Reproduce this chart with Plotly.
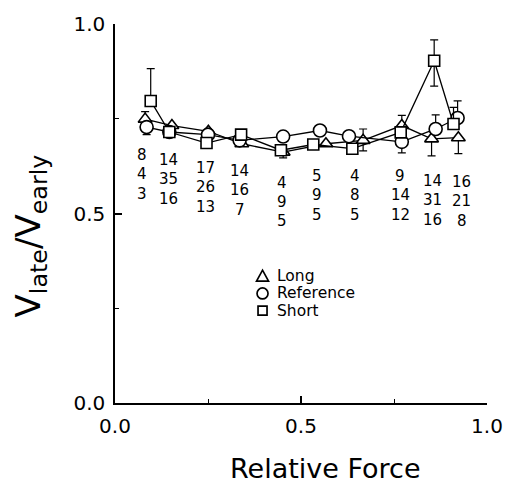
import plotly.graph_objects as go

# Long (triangles)
long_x = [0.081, 0.153, 0.251, 0.341, 0.452, 0.567, 0.667, 0.771, 0.851, 0.923]
long_y = [0.749, 0.732, 0.717, 0.684, 0.662, 0.684, 0.693, 0.732, 0.697, 0.700]
long_err_plus = [0.020, 0, 0, 0, 0, 0, 0.030, 0.027, 0, 0]
long_err_minus = [0, 0, 0, 0, 0.015, 0, 0.028, 0, 0.045, 0.042]

# Reference (circles)
ref_x = [0.085, 0.146, 0.250, 0.335, 0.452, 0.551, 0.629, 0.771, 0.862, 0.921]
ref_y = [0.728, 0.715, 0.708, 0.693, 0.703, 0.719, 0.704, 0.689, 0.723, 0.752]
ref_err_plus = [0, 0, 0, 0, 0, 0, 0, 0, 0.037, 0.045]
ref_err_minus = [0.020, 0, 0, 0, 0, 0, 0, 0.029, 0, 0]

# Short (squares)
short_x = [0.096, 0.146, 0.246, 0.339, 0.446, 0.533, 0.638, 0.768, 0.858, 0.910]
short_y = [0.797, 0.715, 0.686, 0.708, 0.667, 0.682, 0.671, 0.714, 0.903, 0.736]
short_err_plus = [0.085, 0, 0, 0, 0, 0, 0, 0, 0.055, 0.044]
short_err_minus = [0, 0, 0, 0, 0, 0, 0, 0, 0.067, 0]

# sample counts printed under each force bin
n_row1 = [8, 14, 17, 14, 4, 5, 4, 9, 14, 16]
n_row2 = [4, 35, 26, 16, 9, 9, 8, 14, 31, 21]
n_row3 = [3, 16, 13, 7, 5, 5, 5, 12, 16, 8]
n_label_x = [0.073, 0.144, 0.243, 0.335, 0.450, 0.542, 0.644, 0.767, 0.853, 0.932]
n_label_top = [0.654, 0.641, 0.620, 0.612, 0.581, 0.599, 0.599, 0.599, 0.586, 0.583]
n_row_step = 0.051

legend_names = ["Long", "Reference", "Short"]

FONT = "DejaVu Sans"
W, H = 515, 484
ML, MR, MT, MB = 115, 18, 19, 81
PW, PH = W - ML - MR, H - MT - MB


def px_to_paper(px, py):
    return (px - ML) / PW, (H - MB - py) / PH


fig = go.Figure()

series = [
    (long_x, long_y, long_err_plus, long_err_minus, "triangle-up", 12),
    (ref_x, ref_y, ref_err_plus, ref_err_minus, "circle", 13),
    (short_x, short_y, short_err_plus, short_err_minus, "square", 11),
]

for name, (xs, ys, ep, em, sym, sz) in zip(legend_names, series):
    fig.add_trace(go.Scatter(
        x=xs, y=ys, mode="lines+markers", name=name, showlegend=False,
        line=dict(color="black", width=1.3),
        marker=dict(symbol=sym, size=sz, color="white",
                    line=dict(color="black", width=1.6)),
        error_y=dict(type="data", symmetric=False, array=ep, arrayminus=em,
                     color="black", thickness=1.2, width=4),
    ))

for i, xv in enumerate(n_label_x):
    for r, row in enumerate([n_row1, n_row2, n_row3]):
        fig.add_annotation(
            x=xv, y=n_label_top[i] - r * n_row_step, xref="x", yref="y",
            text=str(row[i]), showarrow=False, height=18,
            font=dict(family=FONT, size=15, color="black"),
        )

# legend drawn as key shapes + labels
legend_sym_px = 266.5
legend_rows_py = [274.5, 292.0, 309.5]
legend_text_px = 279.0
shapes = []
for k, (name, py) in enumerate(zip(legend_names, legend_rows_py)):
    ax, ay = px_to_paper(legend_sym_px, py)
    common = dict(xref="paper", yref="paper", xsizemode="pixel", ysizemode="pixel",
                  xanchor=ax, yanchor=ay, line=dict(color="black", width=1.7),
                  fillcolor="rgba(0,0,0,0)")
    if k == 0:
        shapes.append(dict(type="path", path="M -6,-5 L 6,-5 L 0,6 Z", **common))
    elif k == 1:
        shapes.append(dict(type="circle", x0=-5.5, x1=5.5, y0=-5.5, y1=5.5, **common))
    else:
        shapes.append(dict(type="rect", x0=-4.5, x1=4.5, y0=-4.5, y1=4.5, **common))
    tx, ty = px_to_paper(legend_text_px, py)
    fig.add_annotation(x=tx, y=ty, xref="paper", yref="paper", xanchor="left",
                       yanchor="middle", text=name, showarrow=False, height=16,
                       font=dict(family=FONT, size=15.5, color="black"))

# axis titles
tx, ty = px_to_paper(331, 469)
fig.add_annotation(x=tx, y=ty, xref="paper", yref="paper", xanchor="center",
                   yanchor="middle", text="Relative Force", showarrow=False, height=26,
                   font=dict(family=FONT, size=27, color="black"))
tx, ty = px_to_paper(28, 234)
fig.add_annotation(x=tx, y=ty, xref="paper", yref="paper", xanchor="center",
                   yanchor="middle", text="V<sub>late</sub>/V<sub>early</sub>",
                   textangle=-90, showarrow=False,
                   font=dict(family=FONT, size=34, color="black"))

axis_common = dict(
    range=[0, 1], dtick=0.5, tick0=0, tickformat=".1f",
    showgrid=False, zeroline=False, showline=True, linecolor="black", linewidth=1.5,
    ticks="inside", ticklen=7, tickwidth=1.5, tickcolor="black",
    tickfont=dict(family=FONT, size=20, color="black"), ticklabelstandoff=4,
    minor=dict(dtick=0.25, tick0=0, ticks="inside", ticklen=4, tickwidth=1.2,
               tickcolor="black", showgrid=False),
)

fig.update_layout(
    width=W, height=H,
    margin=dict(l=ML, r=MR, t=MT, b=MB),
    paper_bgcolor="white", plot_bgcolor="white",
    font=dict(family=FONT, color="black"),
    showlegend=False,
    shapes=shapes,
    xaxis=axis_common,
    yaxis=axis_common,
)

fig.write_html("out.html")
